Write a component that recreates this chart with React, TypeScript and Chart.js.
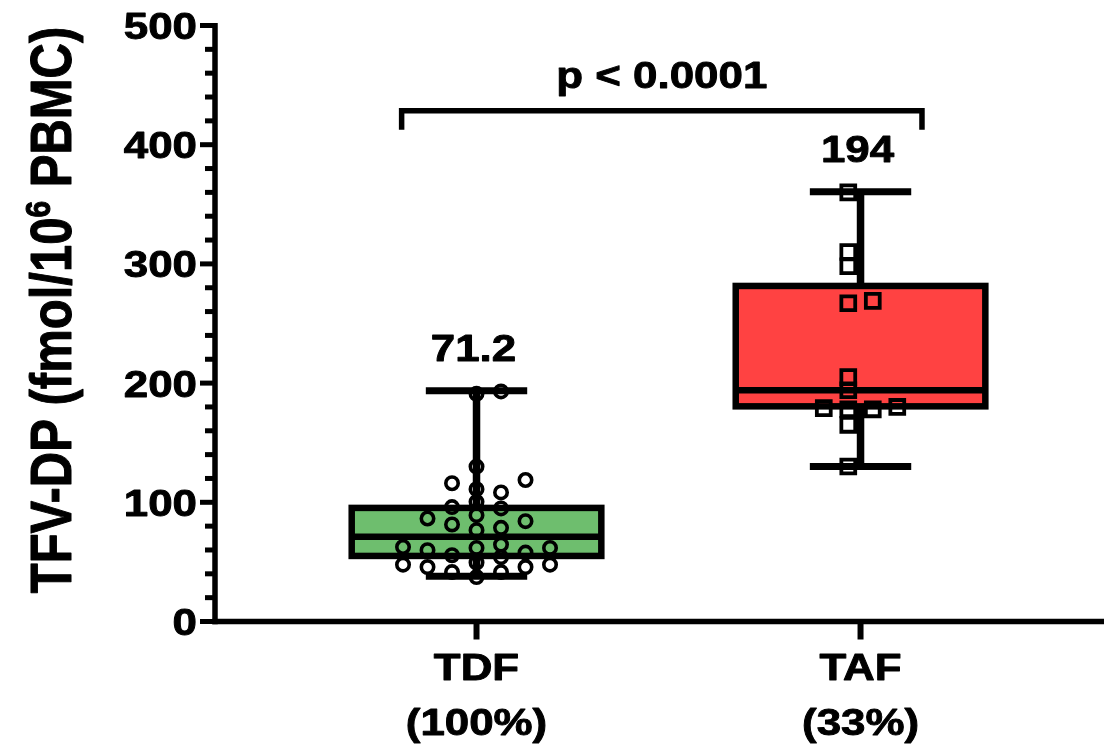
import React, { useEffect, useRef } from 'react';
import { Chart, registerables } from 'chart.js';

Chart.register(...registerables);

// ---------------- data ----------------
const CATEGORIES = ['TDF', 'TAF'];
const CATEGORY_NOTES = ['(100%)', '(33%)'];
const TDF_VALUES = [193, 191, 130, 118.7, 116, 111, 108.3, 100.4, 96, 94.9, 89.2, 86.4, 84.2, 81.4, 78.6, 76.6, 64.5, 62.5, 61.7, 61.7, 59.8, 57.8, 55.6, 54, 49.4, 47.7, 47.7, 45.7, 45.7, 41.5, 41.5, 37.3];
const TAF_VALUES = [360, 310, 298, 269, 267, 205, 194, 180, 179, 178, 178, 165, 130];
const WHISKER_LOW = [37.9, 130];
const Q1 = [55, 180.5];
const MEDIAN = [71.2, 194];
const Q3 = [95.3, 281.5];
const WHISKER_HIGH = [193.5, 360.5];
const MEDIAN_LABELS = ['71.2', '194'];
const Y_TICKS = [0, 100, 200, 300, 400, 500];
const Y_MINOR_STEP = 20;
const P_LABEL = 'p < 0.0001';
const Y_TITLE_PARTS = ['TFV-DP (fmol/10', '6', ' PBMC)'];

// ---------------- layout / style ----------------
const W = 1104;
const H = 749;
const FONT_FAMILY = '"Liberation Sans", Arial, Helvetica, sans-serif';
const SX = 1.17; // horizontal stretch of glyphs in the reference
const X_MIN = 0.319;
const X_MAX = 2.634;
const PAD = { left: 215, top: 25.5, right: 0, bottom: H - 621.5 };
const BOX_HALF = 0.325;
const CAP_HALF = 0.132;
const COL_STEP = 0.0638;
const SWARM_GAP = 10.5;
const BOX_COLORS = ['rgb(110,190,110)', 'rgb(255,66,66)'];
const BRACKET_X = [0.805, 2.16];
const BRACKET_Y = 428.5;
const BRACKET_LEG = 19; // px
const LABEL_FONT = 37.5;
const TITLE_FONT = 49;
const TEXT_STROKE = 0.9;

function swarm(values: number[], center: number) {
  const sorted = [...values].sort((a, b) => a - b);
  const cols = new Map<number, number[]>();
  const order = [0, 1, -1, 2, -2, 3, -3, 4, -4];
  const assigned = sorted.map((v) => {
    let chosen = order.find((c) => (cols.get(c) || []).every((u) => Math.abs(u - v) >= SWARM_GAP));
    if (chosen === undefined) chosen = 0;
    cols.set(chosen, [...(cols.get(chosen) || []), v]);
    return { col: chosen, v };
  });
  const used = assigned.map((a) => a.col);
  const shift = -(Math.min(...used) + Math.max(...used)) / 2;
  return assigned.map((a) => ({ x: center + (a.col + shift) * COL_STEP, y: a.v }));
}

function paintText(ctx: CanvasRenderingContext2D, text: string, x: number, y: number) {
  ctx.fillText(text, x, y);
  ctx.lineWidth = TEXT_STROKE;
  ctx.strokeStyle = '#000';
  ctx.lineJoin = 'round';
  ctx.strokeText(text, x, y);
}

function drawText(
  ctx: CanvasRenderingContext2D,
  text: string,
  x: number,
  y: number,
  size: number,
  align: CanvasTextAlign,
  baseline: CanvasTextBaseline
) {
  ctx.save();
  ctx.translate(x, y);
  ctx.scale(SX, 1);
  ctx.font = `bold ${size}px ${FONT_FAMILY}`;
  ctx.textAlign = align;
  ctx.textBaseline = baseline;
  ctx.fillStyle = '#000';
  paintText(ctx, text, 0, 0);
  ctx.restore();
}

function line(ctx: CanvasRenderingContext2D, x1: number, y1: number, x2: number, y2: number) {
  ctx.beginPath();
  ctx.moveTo(x1, y1);
  ctx.lineTo(x2, y2);
  ctx.stroke();
}

const boxPlugin = {
  id: 'boxes',
  beforeDatasetsDraw(chart: any) {
    const ctx: CanvasRenderingContext2D = chart.ctx;
    const xs = chart.scales.x;
    const ys = chart.scales.y;
    ctx.save();
    ctx.strokeStyle = '#000';
    ctx.lineCap = 'butt';
    CATEGORIES.forEach((_, i) => {
      const c = i + 1;
      const cx = xs.getPixelForValue(c);
      const left = xs.getPixelForValue(c - BOX_HALF);
      const right = xs.getPixelForValue(c + BOX_HALF);
      const capL = xs.getPixelForValue(c - CAP_HALF);
      const capR = xs.getPixelForValue(c + CAP_HALF);
      const yMin = ys.getPixelForValue(WHISKER_LOW[i]);
      const yQ1 = ys.getPixelForValue(Q1[i]);
      const yMed = ys.getPixelForValue(MEDIAN[i]);
      const yQ3 = ys.getPixelForValue(Q3[i]);
      const yMax = ys.getPixelForValue(WHISKER_HIGH[i]);
      ctx.lineWidth = 7.5;
      line(ctx, cx, yQ3, cx, yMax);
      line(ctx, cx, yQ1, cx, yMin);
      ctx.lineWidth = 7;
      line(ctx, capL, yMax, capR, yMax);
      line(ctx, capL, yMin, capR, yMin);
      ctx.fillStyle = BOX_COLORS[i];
      ctx.fillRect(left, yQ3, right - left, yQ1 - yQ3);
      ctx.lineWidth = 6.5;
      ctx.lineJoin = 'miter';
      ctx.strokeRect(left, yQ3, right - left, yQ1 - yQ3);
      line(ctx, left, yMed, right, yMed);
    });
    ctx.restore();
  },
  afterDraw(chart: any) {
    const ctx: CanvasRenderingContext2D = chart.ctx;
    const xs = chart.scales.x;
    const ys = chart.scales.y;
    const area = chart.chartArea;
    ctx.save();
    ctx.strokeStyle = '#000';
    ctx.lineCap = 'butt';
    // axes
    const axisX = area.left;
    const axisY = area.bottom;
    ctx.lineWidth = 5.5;
    line(ctx, axisX, ys.getPixelForValue(Y_TICKS[Y_TICKS.length - 1]) - 2.5, axisX, axisY + 2.75);
    line(ctx, axisX - 2.75, axisY, W, axisY);
    // y ticks
    ctx.lineWidth = 5;
    const top = Y_TICKS[Y_TICKS.length - 1];
    for (let v = 0; v <= top; v += Y_MINOR_STEP) {
      const py = ys.getPixelForValue(v);
      const major = Y_TICKS.includes(v);
      line(ctx, axisX - (major ? 15 : 10), py, axisX, py);
    }
    Y_TICKS.forEach((v) => {
      drawText(ctx, String(v), axisX - 18, ys.getPixelForValue(v) + 13.5, LABEL_FONT, 'right', 'alphabetic');
    });
    // x ticks and labels
    CATEGORIES.forEach((name, i) => {
      const cx = xs.getPixelForValue(i + 1);
      ctx.lineWidth = 6;
      line(ctx, cx, axisY, cx, axisY + 18);
      drawText(ctx, name, cx, axisY + 58.5, LABEL_FONT, 'center', 'alphabetic');
      drawText(ctx, CATEGORY_NOTES[i], cx, axisY + 113.5, LABEL_FONT, 'center', 'alphabetic');
      drawText(ctx, MEDIAN_LABELS[i], cx - 3, ys.getPixelForValue(WHISKER_HIGH[i]) - 30, LABEL_FONT, 'center', 'alphabetic');
    });
    // significance bracket
    const bx1 = xs.getPixelForValue(BRACKET_X[0]);
    const bx2 = xs.getPixelForValue(BRACKET_X[1]);
    const by = ys.getPixelForValue(BRACKET_Y);
    ctx.lineWidth = 5.5;
    ctx.lineJoin = 'miter';
    ctx.beginPath();
    ctx.moveTo(bx1, by + BRACKET_LEG);
    ctx.lineTo(bx1, by);
    ctx.lineTo(bx2, by);
    ctx.lineTo(bx2, by + BRACKET_LEG);
    ctx.stroke();
    drawText(ctx, P_LABEL, (bx1 + bx2) / 2, by - 23, LABEL_FONT, 'center', 'alphabetic');
    // y title (rotated, with superscript)
    ctx.save();
    ctx.translate(71, 310);
    ctx.rotate(-Math.PI / 2);
    ctx.scale(1, SX);
    ctx.fillStyle = '#000';
    ctx.textBaseline = 'alphabetic';
    ctx.textAlign = 'left';
    const mainFont = `bold ${TITLE_FONT}px ${FONT_FAMILY}`;
    const supSize = Math.round(TITLE_FONT * 0.62);
    const supFont = `bold ${supSize}px ${FONT_FAMILY}`;
    ctx.font = mainFont;
    const w1 = ctx.measureText(Y_TITLE_PARTS[0]).width;
    const w3 = ctx.measureText(Y_TITLE_PARTS[2]).width;
    ctx.font = supFont;
    const w2 = ctx.measureText(Y_TITLE_PARTS[1]).width;
    const total = w1 + w2 + w3;
    let px = -total / 2;
    ctx.font = mainFont;
    paintText(ctx, Y_TITLE_PARTS[0], px, 0);
    px += w1;
    ctx.font = supFont;
    paintText(ctx, Y_TITLE_PARTS[1], px, -TITLE_FONT * 0.36);
    px += w2;
    ctx.font = mainFont;
    paintText(ctx, Y_TITLE_PARTS[2], px, 0);
    ctx.restore();
    ctx.restore();
  },
};

export default function App() {
  const ref = useRef<HTMLCanvasElement | null>(null);
  useEffect(() => {
    if (!ref.current) return;
    const chart = new Chart(ref.current, {
      type: 'scatter',
      data: {
        datasets: [
          {
            label: CATEGORIES[0],
            data: swarm(TDF_VALUES, 1),
            pointStyle: 'circle',
            pointRadius: 6.2,
            borderWidth: 3.6,
            borderColor: '#000',
            backgroundColor: 'rgba(0,0,0,0)',
          },
          {
            label: CATEGORIES[1],
            data: swarm(TAF_VALUES, 2),
            pointStyle: 'rect',
            pointRadius: 9.8,
            borderWidth: 3.8,
            borderColor: '#000',
            backgroundColor: 'rgba(0,0,0,0)',
          },
        ],
      },
      options: {
        animation: false,
        responsive: false,
        events: [],
        layout: { padding: PAD, autoPadding: false },
        plugins: { legend: { display: false }, tooltip: { enabled: false }, title: { display: false } },
        scales: {
          x: { type: 'linear', min: X_MIN, max: X_MAX, display: false },
          y: { type: 'linear', min: 0, max: Y_TICKS[Y_TICKS.length - 1], display: false },
        },
      },
      plugins: [boxPlugin],
    } as any);
    return () => chart.destroy();
  }, []);
  return (
    <div style={{ position: 'fixed', left: 0, top: 0, width: W, height: H, background: '#fff' }}>
      <canvas ref={ref} width={W} height={H} style={{ display: 'block' }} />
    </div>
  );
}
